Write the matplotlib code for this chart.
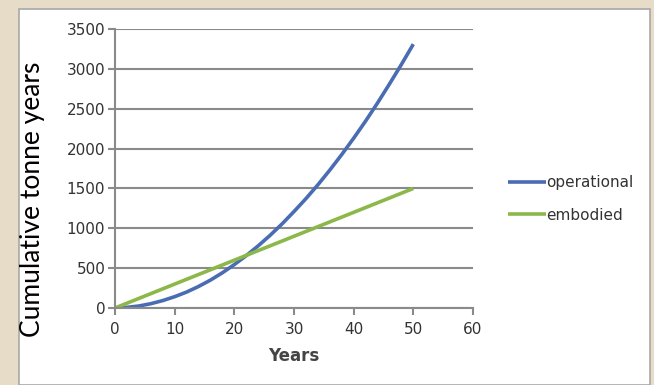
import matplotlib.pyplot as plt
from matplotlib.patches import Rectangle

# cumulative tonne years over building life, read every two years
years = [0, 2, 4, 6, 8, 10, 12, 14, 16, 18, 20, 22, 24, 26, 28, 30,
         32, 34, 36, 38, 40, 42, 44, 46, 48, 50]
operational = [0, 8, 25, 54, 93, 142, 200, 270, 350, 442, 545, 657, 780,
               912, 1055, 1210, 1372, 1545, 1730, 1925, 2130, 2345, 2572,
               2810, 3055, 3310]
embodied = [0, 60, 120, 180, 240, 300, 360, 420, 480, 540, 600, 660, 720,
            780, 840, 900, 960, 1020, 1080, 1140, 1200, 1260, 1320, 1380,
            1440, 1500]

x_ticks = [0, 10, 20, 30, 40, 50, 60]
y_ticks = [0, 500, 1000, 1500, 2000, 2500, 3000, 3500]

W, H = 654, 385
fig = plt.figure(figsize=(W / 100, H / 100), dpi=100)
fig.patch.set_facecolor("#e7dcc7")

# white card behind the chart
panel = Rectangle((19 / W, 0), (650 - 19) / W, (H - 9) / H,
                  transform=fig.transFigure, facecolor="white",
                  edgecolor="#a8a8a8", linewidth=1.2, zorder=-5)
fig.patches.append(panel)

ax = fig.add_axes([115 / W, (H - 308) / H, (473 - 115) / W, (308 - 29) / H])
ax.set_zorder(2)
ax.patch.set_alpha(0)

blue = "#4a6cb3"
green = "#8cb84a"
l1, = ax.plot(years, operational, color=blue, lw=2.6, solid_capstyle="butt")
l2, = ax.plot(years, embodied, color=green, lw=2.6, solid_capstyle="butt")

ax.set_xlim(0, 60)
ax.set_ylim(0, 3500)
ax.set_xticks(x_ticks)
ax.set_yticks(y_ticks)
ax.grid(axis="y", color="#8a8a8a", lw=1.5)
ax.set_axisbelow(True)

for side in ["top", "right"]:
    ax.spines[side].set_visible(False)
for side in ["left", "bottom"]:
    ax.spines[side].set_color("#8a8a8a")
    ax.spines[side].set_linewidth(1.5)
ax.tick_params(colors="#8a8a8a", width=1.5, length=5, labelcolor="#333333",
               labelsize=11)
ax.tick_params(axis="x", pad=5)
ax.tick_params(axis="y", pad=2)

ax.set_xlabel("Years", fontsize=12, fontweight="bold", color="#444444",
              labelpad=7)
fig.text(33 / W, (H - 199) / H, "Cumulative tonne years", rotation=90,
         ha="center", va="center", fontsize=19, family="Lato", color="black")

fig.legend([l1, l2], ["operational", "embodied"], loc="center left",
           bbox_to_anchor=(494 / W, (H - 199) / H), frameon=False,
           fontsize=11, handlelength=2.5, handletextpad=0.0,
           labelspacing=1.15, labelcolor="#333333")

plt.savefig("out.png", dpi=100, facecolor=fig.get_facecolor())
